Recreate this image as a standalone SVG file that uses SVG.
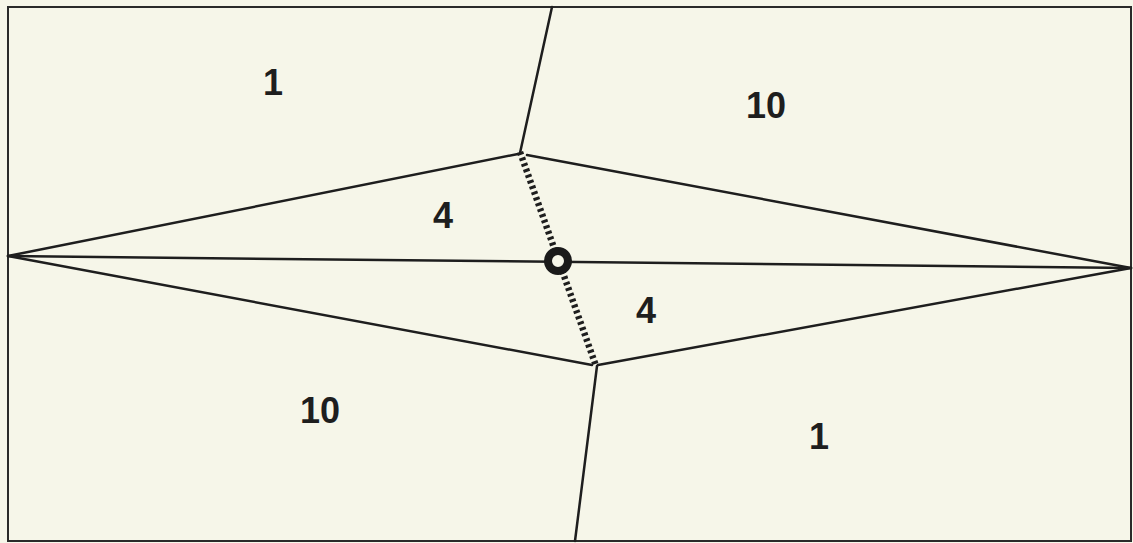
<svg xmlns="http://www.w3.org/2000/svg" width="1133" height="543" viewBox="0 0 1133 543">
<style>
.e{stroke:#1e1e1e;stroke-width:2.5;fill:none;stroke-linecap:round}
.h{stroke:#1e1e1e;stroke-width:6.5;stroke-dasharray:3 3;fill:none}
.t{font-family:"Liberation Sans",Arial,sans-serif;font-weight:bold;font-size:36px;fill:#1e1e1e;text-anchor:middle}
</style>
<rect x="0" y="0" width="1133" height="543" fill="#f6f6e9"/>
<rect x="8" y="7" width="1123" height="534" fill="none" stroke="#2a2a2a" stroke-width="2"/>
<g id="connectors">
<line class="e" x1="552" y1="7" x2="520" y2="153"/>
<line class="e" x1="575" y1="541" x2="597" y2="366"/>
<line class="e" x1="8" y1="256" x2="518" y2="154"/>
<line class="e" x1="527" y1="155" x2="1131" y2="268"/>
<line class="e" x1="8" y1="256" x2="592" y2="365"/>
<line class="e" x1="598" y1="365" x2="1131" y2="268"/>
<line class="e" x1="8" y1="256" x2="1131" y2="268"/>
<line class="h" x1="520" y1="152" x2="596" y2="366"/>
</g>
<g id="node-center"><circle cx="558" cy="261" r="10" fill="#f6f6e9" stroke="#1a1a1a" stroke-width="8"/></g>
<g id="label-1-top"><text class="t" x="273" y="95">1</text></g>
<g id="label-10-top"><text class="t" x="766" y="118">10</text></g>
<g id="label-4-upper"><text class="t" x="443" y="228">4</text></g>
<g id="label-4-lower"><text class="t" x="646" y="323">4</text></g>
<g id="label-10-bottom"><text class="t" x="320" y="423">10</text></g>
<g id="label-1-bottom"><text class="t" x="819" y="449">1</text></g>
</svg>
